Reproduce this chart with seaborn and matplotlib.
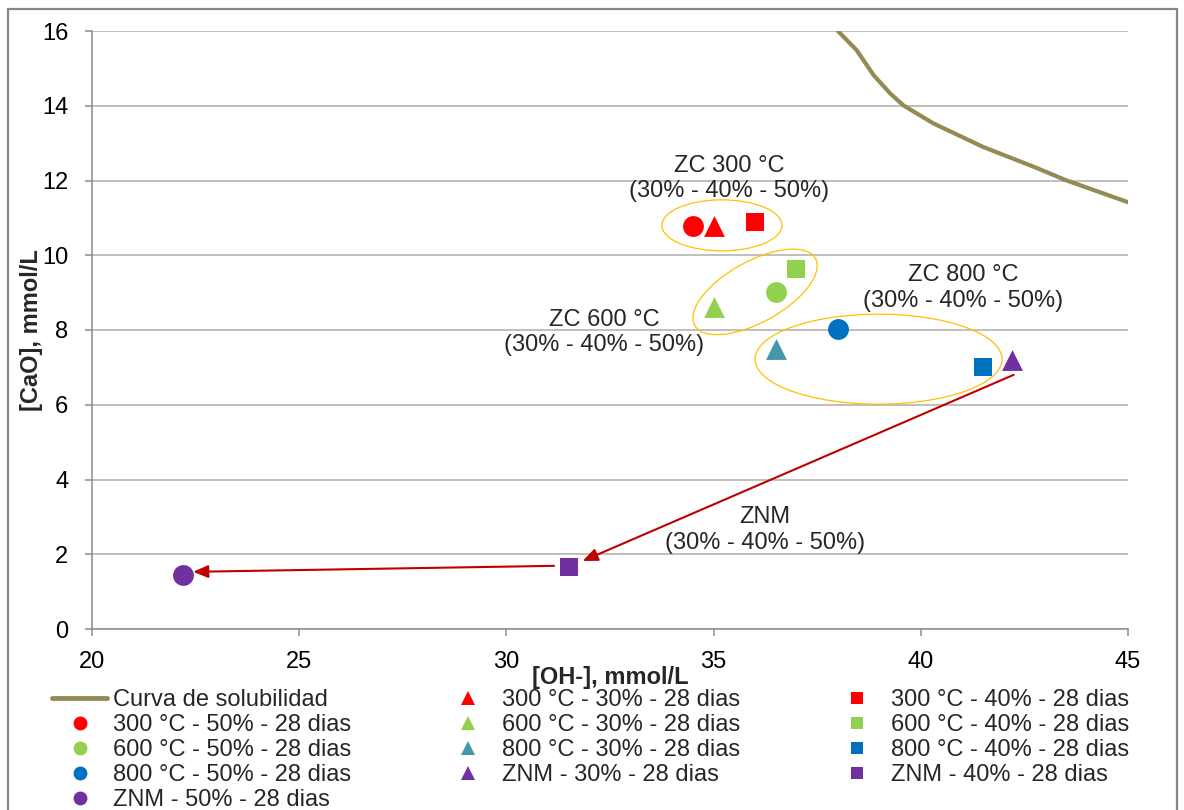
import matplotlib
matplotlib.use("Agg")
import matplotlib.pyplot as plt
import matplotlib.transforms as mtransforms
from matplotlib.patches import Ellipse, Rectangle
from matplotlib.lines import Line2D
import seaborn as sns

# Solubility curve of CaO vs OH-
curve_oh = [38.0, 38.45, 38.86, 39.26, 39.58, 40.3, 41.5, 42.72, 43.52, 45.0]
curve_cao = [16.0, 15.49, 14.82, 14.33, 14.01, 13.53, 12.9, 12.37, 12.0, 11.42]

# Measured points, 28 days: (series label, [OH-], [CaO])
labels_30 = ["300 °C - 30% - 28 dias", "600 °C - 30% - 28 dias",
             "800 °C - 30% - 28 dias", "ZNM - 30% - 28 dias"]
oh_30 = [35.0, 35.0, 36.5, 42.2]
cao_30 = [10.78, 8.62, 7.5, 7.2]

labels_40 = ["300 °C - 40% - 28 dias", "600 °C - 40% - 28 dias",
             "800 °C - 40% - 28 dias", "ZNM - 40% - 28 dias"]
oh_40 = [36.0, 37.0, 41.5, 31.5]
cao_40 = [10.9, 9.62, 7.0, 1.65]

labels_50 = ["300 °C - 50% - 28 dias", "600 °C - 50% - 28 dias",
             "800 °C - 50% - 28 dias", "ZNM - 50% - 28 dias"]
oh_50 = [34.5, 36.5, 38.0, 22.2]
cao_50 = [10.77, 9.03, 8.02, 1.45]

colors_30 = ["#FF0000", "#92D050", "#4596AC", "#7030A0"]
colors_40 = ["#FF0000", "#92D050", "#0070C0", "#7030A0"]
colors_50 = ["#FF0000", "#92D050", "#0070C0", "#7030A0"]

# Group annotations
group_text = ["ZC 300 °C\n(30% - 40% - 50%)", "ZC 600 °C\n(30% - 40% - 50%)",
              "ZC 800 °C\n(30% - 40% - 50%)", "ZNM\n(30% - 40% - 50%)"]
group_text_x = [35.37, 32.36, 41.02, 36.24]
group_text_y = [12.05, 7.93, 9.12, 2.65]

# Grouping ellipses: centre in data units, size in pixels, angle in degrees
ell_x = [35.20, 36.0, 38.98]
ell_y = [10.80, 9.02, 7.22]
ell_w = [120, 138, 247]
ell_h = [51, 61, 90]
ell_angle = [0, 29, 0]

# ZNM trend arrows (tail -> head)
arrow_tail_x = [42.24, 31.15]
arrow_tail_y = [6.80, 1.69]
arrow_head_x = [31.84, 22.44]
arrow_head_y = [1.82, 1.53]

sns.set_style("white")
plt.rcParams["font.family"] = ["Liberation Sans", "DejaVu Sans"]
FS = 17

fig = plt.figure(figsize=(11.84, 8.10), dpi=100)
ax = fig.add_axes([92 / 1184, 1 - 629 / 810, (1128 - 92) / 1184, (629 - 31) / 810])

ax.set_xlim(20, 45)
ax.set_ylim(0, 16)
ax.set_xticks(range(20, 46, 5))
ax.set_yticks(range(0, 17, 2))
ax.yaxis.grid(True, color="#ADADAD", linewidth=1.1)
ax.xaxis.grid(False)
ax.set_axisbelow(True)
for side in ["top", "right"]:
    ax.spines[side].set_visible(False)
for side in ["left", "bottom"]:
    ax.spines[side].set_color("#8C8C8C")
    ax.spines[side].set_linewidth(1.1)
ax.tick_params(axis="both", direction="out", length=5, width=1.1,
               color="#8C8C8C", labelsize=FS, labelcolor="black")
ax.tick_params(axis="x", pad=11, bottom=True)
ax.tick_params(axis="y", pad=12, left=True)

# Solubility curve
sns.lineplot(x=curve_oh, y=curve_cao, sort=False, color="#948A54",
             linewidth=3, ax=ax, zorder=3)

# Ellipses
for cx, cy, w, h, ang in zip(ell_x, ell_y, ell_w, ell_h, ell_angle):
    tr = fig.dpi_scale_trans + mtransforms.ScaledTranslation(cx, cy, ax.transData)
    ax.add_patch(Ellipse((0, 0), w / 100, h / 100, angle=ang, transform=tr,
                         fill=False, edgecolor="#FFC000", linewidth=0.9, zorder=2))

# Arrows
for tx, ty, hx, hy in zip(arrow_tail_x, arrow_tail_y, arrow_head_x, arrow_head_y):
    ax.annotate("", xy=(hx, hy), xytext=(tx, ty),
                arrowprops=dict(arrowstyle="-|>,head_length=0.9,head_width=0.38",
                                color="#C00000", lw=1.5,
                                shrinkA=0, shrinkB=0), zorder=4)

# Data points
for x, y, c in zip(oh_30, cao_30, colors_30):
    sns.scatterplot(x=[x], y=[y], marker="^", color=c, s=225, linewidth=0,
                    ax=ax, zorder=5, legend=False)
for x, y, c in zip(oh_40, cao_40, colors_40):
    sns.scatterplot(x=[x], y=[y], marker="s", color=c, s=185, linewidth=0,
                    ax=ax, zorder=5, legend=False)
for x, y, c in zip(oh_50, cao_50, colors_50):
    sns.scatterplot(x=[x], y=[y], marker="o", color=c, s=225, linewidth=0,
                    ax=ax, zorder=5, legend=False)

# Group labels
for t, x, y in zip(group_text, group_text_x, group_text_y):
    ax.text(x, y, t, ha="center", va="center", fontsize=FS, zorder=6)

ax.set_xlabel("[OH-], mmol/L", fontsize=FS, fontweight="bold")
ax.set_ylabel("[CaO], mmol/L", fontsize=FS, fontweight="bold")
ax.xaxis.set_label_coords(0.5, -0.062)
ax.yaxis.set_label_coords(-0.047, 0.5)

# Legend: columns filled top to bottom
h_curve = Line2D([], [], color="#948A54", linewidth=3.5)
h50 = [Line2D([], [], linestyle="none", marker="o", markersize=10,
              markerfacecolor=c, markeredgewidth=0) for c in colors_50]
h30 = [Line2D([], [], linestyle="none", marker="^", markersize=10,
              markerfacecolor=c, markeredgewidth=0) for c in colors_30]
h40 = [Line2D([], [], linestyle="none", marker="s", markersize=9,
              markerfacecolor=c, markeredgewidth=0) for c in colors_40]
handles = [h_curve] + h50 + h30 + h40
labels = ["Curva de solubilidad"] + labels_50 + labels_30 + labels_40
fig.legend(handles, labels, loc="upper left",
           bbox_to_anchor=(52 / 1184, 1 - 689 / 810), ncol=3, frameon=False,
           fontsize=FS, handlelength=2.33, handletextpad=0.25,
           columnspacing=3.8, labelspacing=0.13, borderpad=0, borderaxespad=0)

# Outer frame around the chart
fig.patches.append(Rectangle((8 / 1184, -0.03), 1169 / 1184, 1 - 9 / 810 + 0.03,
                             transform=fig.transFigure, fill=False,
                             edgecolor="#868686", linewidth=1.6, clip_on=False))

fig.savefig("out.png", dpi=100)
